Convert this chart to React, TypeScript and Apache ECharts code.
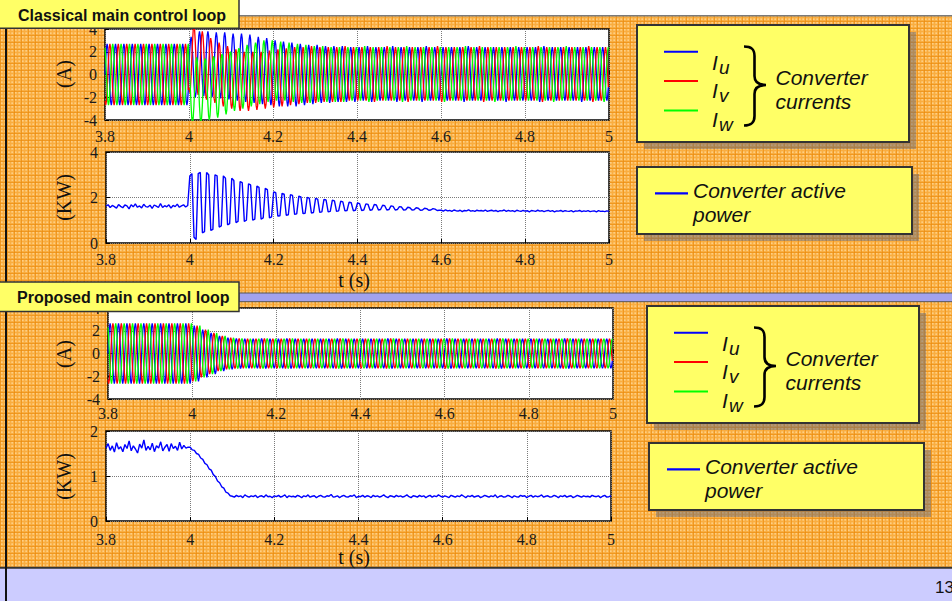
import React, { useEffect, useRef } from "react";
import * as echarts from "echarts";

// ---------- axis / tick data ----------
const T_START = 3.8;
const T_END = 5.0;
const X_STEP = 0.2;
const Y_CURRENT = { min: -4, max: 4, step: 2 };
const Y_POWER_CL = { min: 0, max: 4, step: 2 };
const Y_POWER_PR = { min: 0, max: 2, step: 1 };

// one 50 Hz cycle of the (sampled) phase-current waveform, normalised
const SINE_SHAPE = [0, 0.5, 0.866, 1, 0.866, 0.5, 0, -0.5, -0.866, -1, -0.866, -0.5];

// ---------- classical loop: per-cycle peak values of each phase current (A) ----------
const CL_IU_MAX = [
  2.7, 2.7, 2.7, 2.7, 2.7, 2.7, 2.7, 2.7, 2.7, 2.7,
  3.3, 3.8, 3.8, 3.7, 3.7, 3.6, 3.6, 3.5, 3.3, 3.2,
  3.0, 2.9, 2.8, 2.7, 2.6, 2.6, 2.5, 2.5, 2.5, 2.4,
  2.4, 2.5, 2.4, 2.4, 2.5, 2.4, 2.4, 2.4, 2.5, 2.4,
  2.4, 2.4, 2.4, 2.5, 2.4, 2.4, 2.4, 2.4, 2.4, 2.4,
  2.4, 2.4, 2.5, 2.4, 2.4, 2.4, 2.4, 2.4, 2.4, 2.4,
];
const CL_IU_MIN = [
  -2.7, -2.7, -2.7, -2.7, -2.7, -2.7, -2.7, -2.7, -2.7, -2.7,
  -2.0, -1.9, -2.0, -2.1, -2.2, -2.3, -2.4, -2.5, -2.6, -2.7,
  -2.8, -2.8, -2.8, -2.7, -2.6, -2.5, -2.5, -2.4, -2.4, -2.4,
  -2.3, -2.4, -2.3, -2.3, -2.4, -2.3, -2.3, -2.4, -2.3, -2.3,
  -2.3, -2.3, -2.4, -2.3, -2.3, -2.3, -2.3, -2.4, -2.3, -2.3,
  -2.3, -2.4, -2.3, -2.3, -2.3, -2.3, -2.4, -2.3, -2.3, -2.3,
];
const CL_IV_MAX = [
  2.7, 2.7, 2.7, 2.7, 2.7, 2.7, 2.7, 2.7, 2.7, 2.7,
  4.3, 3.8, 3.2, 2.8, 2.5, 2.2, 2.0, 2.0, 2.0, 2.1,
  2.2, 2.3, 2.4, 2.4, 2.5, 2.4, 2.4, 2.4, 2.5, 2.4,
  2.4, 2.4, 2.4, 2.5, 2.4, 2.4, 2.4, 2.4, 2.4, 2.5,
  2.4, 2.4, 2.4, 2.4, 2.5, 2.4, 2.4, 2.4, 2.4, 2.4,
  2.4, 2.5, 2.4, 2.4, 2.4, 2.4, 2.4, 2.5, 2.4, 2.4,
];
const CL_IV_MIN = [
  -2.7, -2.7, -2.7, -2.7, -2.7, -2.7, -2.7, -2.7, -2.7, -2.7,
  -1.6, -1.8, -2.2, -2.5, -2.8, -3.0, -3.2, -3.2, -3.1, -3.0,
  -2.9, -2.8, -2.7, -2.6, -2.5, -2.5, -2.4, -2.4, -2.4, -2.3,
  -2.3, -2.3, -2.4, -2.3, -2.3, -2.3, -2.4, -2.3, -2.3, -2.3,
  -2.4, -2.3, -2.3, -2.3, -2.3, -2.4, -2.3, -2.3, -2.3, -2.3,
  -2.3, -2.3, -2.4, -2.3, -2.3, -2.3, -2.3, -2.3, -2.4, -2.3,
];
const CL_IW_MAX = [
  2.7, 2.7, 2.7, 2.7, 2.7, 2.7, 2.7, 2.7, 2.7, 2.7,
  1.5, 1.4, 1.6, 1.8, 2.0, 2.3, 2.6, 2.8, 3.0, 3.0,
  2.9, 2.8, 2.7, 2.6, 2.5, 2.5, 2.4, 2.4, 2.4, 2.4,
  2.5, 2.4, 2.4, 2.4, 2.4, 2.5, 2.4, 2.4, 2.4, 2.4,
  2.4, 2.4, 2.5, 2.4, 2.4, 2.4, 2.4, 2.4, 2.5, 2.4,
  2.4, 2.4, 2.4, 2.4, 2.5, 2.4, 2.4, 2.4, 2.4, 2.4,
];
const CL_IW_MIN = [
  -2.7, -2.7, -2.7, -2.7, -2.7, -2.7, -2.7, -2.7, -2.7, -2.7,
  -4.2, -4.2, -4.0, -3.8, -3.5, -3.2, -3.0, -2.8, -2.6, -2.4,
  -2.3, -2.3, -2.4, -2.5, -2.5, -2.4, -2.4, -2.4, -2.4, -2.3,
  -2.3, -2.4, -2.3, -2.3, -2.3, -2.4, -2.3, -2.3, -2.3, -2.3,
  -2.4, -2.3, -2.3, -2.3, -2.3, -2.3, -2.4, -2.3, -2.3, -2.3,
  -2.3, -2.3, -2.3, -2.4, -2.3, -2.3, -2.3, -2.3, -2.3, -2.4,
];

// ---------- proposed loop: per-cycle peak amplitude of the phase currents (A) ----------
const PR_I_AMP = [
  2.65, 2.65, 2.65, 2.65, 2.65, 2.65, 2.65, 2.65, 2.65, 2.65,
  2.45, 2.1, 1.8, 1.55, 1.38, 1.32, 1.3, 1.3, 1.32, 1.3,
  1.3, 1.32, 1.3, 1.3, 1.31, 1.3, 1.3, 1.32, 1.3, 1.3,
  1.31, 1.3, 1.3, 1.32, 1.3, 1.3, 1.3, 1.31, 1.3, 1.3,
  1.32, 1.3, 1.3, 1.3, 1.31, 1.3, 1.32, 1.3, 1.3, 1.3,
  1.3, 1.31, 1.3, 1.3, 1.32, 1.3, 1.3, 1.3, 1.31, 1.3,
];

// ---------- converter active power (kW), sampled every 5 ms from 3.8 s to 5.0 s ----------
const CL_POWER = [
  1.62, 1.68, 1.56, 1.65, 1.60, 1.53, 1.69, 1.61, 1.55, 1.67,
  1.63, 1.50, 1.68, 1.59, 1.72, 1.57, 1.63, 1.54, 1.70, 1.60,
  1.58, 1.66, 1.52, 1.67, 1.62, 1.56, 1.73, 1.56, 1.64, 1.59,
  1.68, 1.53, 1.65, 1.60, 1.71, 1.57, 1.63, 1.68, 1.58, 1.65,
  2.95, 3.05, 0.25, 0.15, 3.05, 3.10, 0.45, 0.50, 3.10, 3.00,
  0.55, 0.60, 3.00, 2.95, 0.70, 0.75, 2.95, 2.85, 0.80, 0.85,
  2.85, 2.75, 0.90, 0.95, 2.70, 2.65, 0.95, 1.00, 2.60, 2.55,
  1.00, 1.05, 2.50, 2.45, 1.05, 1.10, 2.40, 2.35, 1.10, 1.15,
  2.25, 2.21, 1.18, 1.20, 2.18, 2.15, 1.22, 1.24, 2.12, 2.09,
  1.26, 1.28, 2.06, 2.03, 1.29, 1.31, 2.00, 1.97, 1.32, 1.34,
  1.96, 1.93, 1.35, 1.37, 1.92, 1.89, 1.37, 1.39, 1.88, 1.85,
  1.39, 1.41, 1.84, 1.81, 1.41, 1.43, 1.80, 1.77, 1.42, 1.44,
  1.76, 1.73, 1.43, 1.45, 1.72, 1.70, 1.44, 1.46, 1.69, 1.67,
  1.45, 1.47, 1.66, 1.64, 1.45, 1.47, 1.63, 1.61, 1.45, 1.47,
  1.60, 1.58, 1.45, 1.46, 1.57, 1.55, 1.45, 1.46, 1.55, 1.53,
  1.44, 1.45, 1.53, 1.51, 1.44, 1.45, 1.51, 1.49, 1.43, 1.44,
  1.44, 1.40, 1.46, 1.41, 1.43, 1.39, 1.45, 1.42, 1.40, 1.44,
  1.38, 1.43, 1.41, 1.46, 1.40, 1.42, 1.39, 1.44, 1.41, 1.43,
  1.40, 1.45, 1.39, 1.42, 1.44, 1.40, 1.43, 1.38, 1.42, 1.41,
  1.45, 1.39, 1.43, 1.40, 1.42, 1.38, 1.44, 1.41, 1.39, 1.43,
  1.40, 1.42, 1.37, 1.43, 1.41, 1.39, 1.44, 1.40, 1.42, 1.38,
  1.41, 1.43, 1.39, 1.42, 1.37, 1.41, 1.40, 1.43, 1.38, 1.42,
  1.40, 1.39, 1.42, 1.37, 1.41, 1.40, 1.43, 1.38, 1.41, 1.39,
  1.42, 1.38, 1.40, 1.41, 1.37, 1.42, 1.39, 1.40, 1.38, 1.41,
  1.39,
];
const PR_POWER = [
  1.62, 1.72, 1.57, 1.67, 1.53, 1.74, 1.60, 1.65, 1.54, 1.70,
  1.61, 1.78, 1.56, 1.67, 1.60, 1.51, 1.71, 1.62, 1.80, 1.57,
  1.66, 1.58, 1.73, 1.54, 1.67, 1.62, 1.76, 1.56, 1.64, 1.70,
  1.55, 1.72, 1.61, 1.66, 1.57, 1.75, 1.60, 1.68, 1.62, 1.64,
  1.64, 1.58, 1.57, 1.50, 1.48, 1.40, 1.37, 1.28, 1.25, 1.16,
  1.13, 1.03, 0.99, 0.89, 0.85, 0.76, 0.73, 0.64, 0.62, 0.56,
  0.55, 0.53, 0.57, 0.54, 0.56, 0.52, 0.58, 0.55, 0.53, 0.56,
  0.54, 0.57, 0.52, 0.55, 0.56, 0.53, 0.58, 0.54, 0.55, 0.52,
  0.56, 0.54, 0.57, 0.53, 0.55, 0.58, 0.52, 0.56, 0.54, 0.55,
  0.53, 0.57, 0.55, 0.52, 0.56, 0.54, 0.58, 0.53, 0.55, 0.56,
  0.52, 0.55, 0.57, 0.54, 0.53, 0.56, 0.55, 0.59, 0.53, 0.54,
  0.56, 0.52, 0.55, 0.57, 0.54, 0.53, 0.56, 0.55, 0.58, 0.52,
  0.55, 0.54, 0.57, 0.53, 0.56, 0.55, 0.52, 0.57, 0.54, 0.56,
  0.53, 0.55, 0.58, 0.54, 0.52, 0.56, 0.55, 0.53, 0.57, 0.54,
  0.56, 0.53, 0.55, 0.58, 0.54, 0.52, 0.56, 0.55, 0.53, 0.57,
  0.54, 0.56, 0.52, 0.55, 0.57, 0.53, 0.56, 0.54, 0.58, 0.55,
  0.53, 0.56, 0.54, 0.52, 0.57, 0.55, 0.53, 0.56, 0.54, 0.58,
  0.55, 0.52, 0.56, 0.54, 0.57, 0.53, 0.55, 0.56, 0.52, 0.54,
  0.57, 0.55, 0.53, 0.56, 0.54, 0.58, 0.52, 0.55, 0.56, 0.53,
  0.54, 0.57, 0.55, 0.52, 0.56, 0.54, 0.53, 0.57, 0.55, 0.56,
  0.52, 0.55, 0.57, 0.53, 0.56, 0.54, 0.55, 0.58, 0.53, 0.55,
  0.56, 0.53, 0.54, 0.57, 0.55, 0.52, 0.56, 0.54, 0.57, 0.53,
  0.55, 0.56, 0.52, 0.54, 0.57, 0.55, 0.53, 0.56, 0.54, 0.55,
  0.53, 0.57, 0.55, 0.54, 0.56, 0.52, 0.55, 0.57, 0.53, 0.54,
  0.56,
];

// ---------- texts ----------
const TITLE_TOP = "Classical main control loop";
const TITLE_BOTTOM = "Proposed main control loop";
const CURRENT_UNIT = "(A)";
const POWER_UNIT = "(KW)";
const TIME_LABEL = "t (s)";
const PHASES = [
  { name: "I", sub: "u", color: "#0000FF" },
  { name: "I", sub: "v", color: "#FF0000" },
  { name: "I", sub: "w", color: "#00FF00" },
];
const CURRENTS_TEXT = ["Converter", "currents"];
const POWER_TEXT = ["Converter active", "power"];
const PAGE_NUMBER = "13";

// ---------- helpers to build series data from the arrays ----------
function phaseData(maxArr: number[], minArr: number[], shift: number) {
  const n = SINE_SHAPE.length;
  const total = maxArr.length * n;
  const out: number[][] = [];
  for (let c = 0; c < maxArr.length; c++) {
    const mid = (maxArr[c] + minArr[c]) / 2;
    const half = (maxArr[c] - minArr[c]) / 2;
    for (let k = 0; k < n; k++) {
      const idx = c * n + k;
      out.push([T_START + ((T_END - T_START) * idx) / total, mid + half * SINE_SHAPE[(k + shift) % n]]);
    }
  }
  return out;
}
function sampledData(values: number[]) {
  const n = values.length;
  return values.map((v, i) => [T_START + ((T_END - T_START) * i) / (n - 1), v]);
}
const NEG = (a: number[]) => a.map((v) => -v);

const SERIF = "Liberation Serif";
const SANS = "Liberation Sans";

echarts.graphic.registerShape(
  "brace",
  echarts.graphic.extendPath(
    "M1 1.5 C8 1.5 11.5 4 11.5 11 L11.5 31 C11.5 37 15 40 23 40 C15 40 11.5 43 11.5 49 L11.5 71 C11.5 78 8 80.5 1 80.5",
    {}
  ) as any
);

function txt(x: number, y: number, text: string, o: any = {}, z = 70) {
  return {
    type: "text",
    x,
    y,
    z,
    rotation: o.rotation || 0,
    style: {
      text,
      fontFamily: o.family || SANS,
      fontSize: o.size || 16,
      fontStyle: o.italic ? "italic" : "normal",
      fontWeight: o.bold ? "bold" : "normal",
      fill: o.color || "#111",
      align: o.align || "left",
      verticalAlign: "middle",
      textAlign: o.align || "left",
      textVerticalAlign: "middle",
    },
  };
}

function currentLegend(dx: number, dy: number) {
  const els: any[] = [];
  els.push({ type: "rect", z: 64, shape: { x: 644 + dx, y: 32 + dy, width: 272, height: 117 }, style: { fill: "rgba(105,105,115,0.5)" } });
  els.push({ type: "rect", z: 65, shape: { x: 637 + dx, y: 25 + dy, width: 272, height: 117 }, style: { fill: "#FFFF66", stroke: "#333", lineWidth: 2 } });
  const lineY = [51.7, 81, 110.5];
  const nameY = [62.5, 90, 119.5];
  PHASES.forEach((p, i) => {
    els.push({ type: "line", z: 70, shape: { x1: 664 + dx, y1: lineY[i] + dy, x2: 698 + dx, y2: lineY[i] + dy }, style: { stroke: p.color, lineWidth: 2 } });
    els.push(txt(712 + dx, nameY[i] + dy, p.name, { size: 21, italic: true }));
    els.push(txt(719 + dx, nameY[i] + 5 + dy, p.sub, { size: 19, italic: true }));
  });
  els.push({ type: "brace", z: 70, x: 743 + dx, y: 45 + dy, style: { stroke: "#000", fill: "none", lineWidth: 2.6 } });
  els.push(txt(775.5 + dx, 77.5 + dy, CURRENTS_TEXT[0], { size: 21, italic: true }));
  els.push(txt(775.5 + dx, 101 + dy, CURRENTS_TEXT[1], { size: 21, italic: true }));
  return els;
}

function powerLegend(dx: number, dy: number) {
  const els: any[] = [];
  els.push({ type: "rect", z: 64, shape: { x: 644 + dx, y: 174 + dy, width: 275, height: 67 }, style: { fill: "rgba(105,105,115,0.5)" } });
  els.push({ type: "rect", z: 65, shape: { x: 637 + dx, y: 167 + dy, width: 275, height: 67 }, style: { fill: "#FFFF66", stroke: "#333", lineWidth: 2 } });
  els.push({ type: "line", z: 70, shape: { x1: 655 + dx, y1: 193.3 + dy, x2: 688 + dx, y2: 193.3 + dy }, style: { stroke: "#0000FF", lineWidth: 2.2 } });
  els.push(txt(693 + dx, 190.8 + dy, POWER_TEXT[0], { size: 21, italic: true }));
  els.push(txt(693 + dx, 214.2 + dy, POWER_TEXT[1], { size: 21, italic: true }));
  return els;
}

const GRIDS = [
  { left: 105, top: 29, width: 504, height: 91 },
  { left: 106, top: 152, width: 503, height: 91 },
  { left: 108, top: 308, width: 505, height: 91 },
  { left: 106, top: 431, width: 505, height: 90 },
];
const X_LABEL_MARGIN = [8, 8, 6, 10];

export default function App() {
  const ref = useRef<HTMLDivElement>(null);
  useEffect(() => {
    if (!ref.current) return;
    const chart = echarts.init(ref.current, undefined, { renderer: "svg", width: 952, height: 601 });

    const xAxes = GRIDS.map((_, i) => ({
      type: "value",
      gridIndex: i,
      min: T_START,
      max: T_END,
      interval: X_STEP,
      axisLine: { show: false },
      axisTick: { show: true, inside: true, length: 4, lineStyle: { color: "#000" } },
      axisLabel: {
        margin: X_LABEL_MARGIN[i],
        fontFamily: SERIF,
        fontSize: 16,
        color: "#1a1a1a",
        formatter: (v: number) => String(Math.round(v * 10) / 10),
      },
      splitLine: { show: true, lineStyle: { color: "#7a7a7a", type: "dotted", width: 1 } },
    }));
    const yRanges = [Y_CURRENT, Y_POWER_CL, Y_CURRENT, Y_POWER_PR];
    const yAxes = yRanges.map((r, i) => ({
      type: "value",
      gridIndex: i,
      min: r.min,
      max: r.max,
      interval: r.step,
      axisLine: { show: false },
      axisTick: { show: true, inside: true, length: 4, lineStyle: { color: "#000" } },
      axisLabel: {
        margin: 8,
        fontFamily: SERIF,
        fontSize: 16,
        color: "#1a1a1a",
        formatter: (v: number) => String(Math.round(v)),
      },
      splitLine: { show: true, lineStyle: { color: "#7a7a7a", type: "dotted", width: 1 } },
    }));

    const line = (name: string, data: number[][], color: string, gi: number, w = 1.3) => ({
      name,
      type: "line",
      xAxisIndex: gi,
      yAxisIndex: gi,
      data,
      symbol: "none",
      showSymbol: false,
      silent: true,
      clip: true,
      lineStyle: { color, width: w },
      itemStyle: { color },
    });

    const series = [
      line("Iu", phaseData(CL_IU_MAX, CL_IU_MIN, 0), "#0000FF", 0),
      line("Iv", phaseData(CL_IV_MAX, CL_IV_MIN, 8), "#FF0000", 0),
      line("Iw", phaseData(CL_IW_MAX, CL_IW_MIN, 4), "#00FF00", 0),
      line("P", sampledData(CL_POWER), "#0000FF", 1, 1.4),
      line("Iu", phaseData(PR_I_AMP, NEG(PR_I_AMP), 0), "#0000FF", 2),
      line("Iv", phaseData(PR_I_AMP, NEG(PR_I_AMP), 8), "#FF0000", 2),
      line("Iw", phaseData(PR_I_AMP, NEG(PR_I_AMP), 4), "#00FF00", 2),
      line("P", sampledData(PR_POWER), "#0000FF", 3, 1.4),
    ];

    const graphic: any[] = [
      // top white strip
      { type: "rect", z: 50, shape: { x: 239, y: -1, width: 714, height: 16.3 }, style: { fill: "#ffffff" } },
      { type: "line", z: 51, shape: { x1: 239, y1: 15.8, x2: 952, y2: 15.8 }, style: { stroke: "#7a7a7a", lineWidth: 1.5 } },
      // divider band
      { type: "rect", z: 50, shape: { x: 239, y: 293, width: 714, height: 8.7 }, style: { fill: "#A2A2EE", stroke: "#555", lineWidth: 1 } },
      // bottom bar
      { type: "rect", z: 50, shape: { x: 0, y: 568, width: 952, height: 34 }, style: { fill: "#CCCCFF" } },
      { type: "line", z: 51, shape: { x1: 0, y1: 567.7, x2: 952, y2: 567.7 }, style: { stroke: "#333", lineWidth: 2 } },
      // left black line
      { type: "line", z: 55, shape: { x1: 6, y1: 0, x2: 6, y2: 601 }, style: { stroke: "#111", lineWidth: 2 } },
      // header boxes
      { type: "rect", z: 60, shape: { x: -2, y: -2, width: 241, height: 30.3 }, style: { fill: "#FFFF66", stroke: "#333", lineWidth: 1.5 } },
      txt(18, 15.3, TITLE_TOP, { size: 16, bold: true }),
      { type: "rect", z: 60, shape: { x: -2, y: 282, width: 241, height: 29.5 }, style: { fill: "#FFFF66", stroke: "#333", lineWidth: 1.5 } },
      txt(17, 297, TITLE_BOTTOM, { size: 16, bold: true }),
      // axis names
      txt(63.5, 74, CURRENT_UNIT, { family: SERIF, size: 20, align: "center", rotation: Math.PI / 2 }),
      txt(64, 197.5, POWER_UNIT, { family: SERIF, size: 20, align: "center", rotation: Math.PI / 2 }),
      txt(63.5, 354, CURRENT_UNIT, { family: SERIF, size: 20, align: "center", rotation: Math.PI / 2 }),
      txt(63.5, 476.5, POWER_UNIT, { family: SERIF, size: 20, align: "center", rotation: Math.PI / 2 }),
      txt(354, 280, TIME_LABEL, { family: SERIF, size: 20, align: "center" }),
      txt(354, 557, TIME_LABEL, { family: SERIF, size: 20, align: "center" }),
      // page number
      txt(935, 587, PAGE_NUMBER, { size: 17 }),
      ...currentLegend(0, 0),
      ...powerLegend(0, 0),
      ...currentLegend(10, 281),
      ...powerLegend(12, 276),
    ];

    chart.setOption({
      animation: false,
      backgroundColor: "transparent",
      grid: GRIDS.map((g) => ({ ...g, show: true, backgroundColor: "#ffffff", borderColor: "#000", borderWidth: 1.5 })),
      xAxis: xAxes,
      yAxis: yAxes,
      series,
      graphic,
    } as any);

    return () => chart.dispose();
  }, []);

  return (
    <div
      style={{
        position: "fixed",
        left: 0,
        top: 0,
        width: 952,
        height: 601,
        overflow: "hidden",
        backgroundColor: "#F9AD40",
        backgroundImage:
          "linear-gradient(to right, rgba(235,140,15,0.65) 1px, transparent 1px), linear-gradient(to bottom, rgba(235,140,15,0.65) 1px, transparent 1px), radial-gradient(circle, rgba(255,215,150,0.8) 0.8px, transparent 1.3px)",
        backgroundSize: "7px 7px, 7px 7px, 3.5px 3.5px",
      }}
    >
      <div ref={ref} style={{ width: 952, height: 601 }} />
    </div>
  );
}
